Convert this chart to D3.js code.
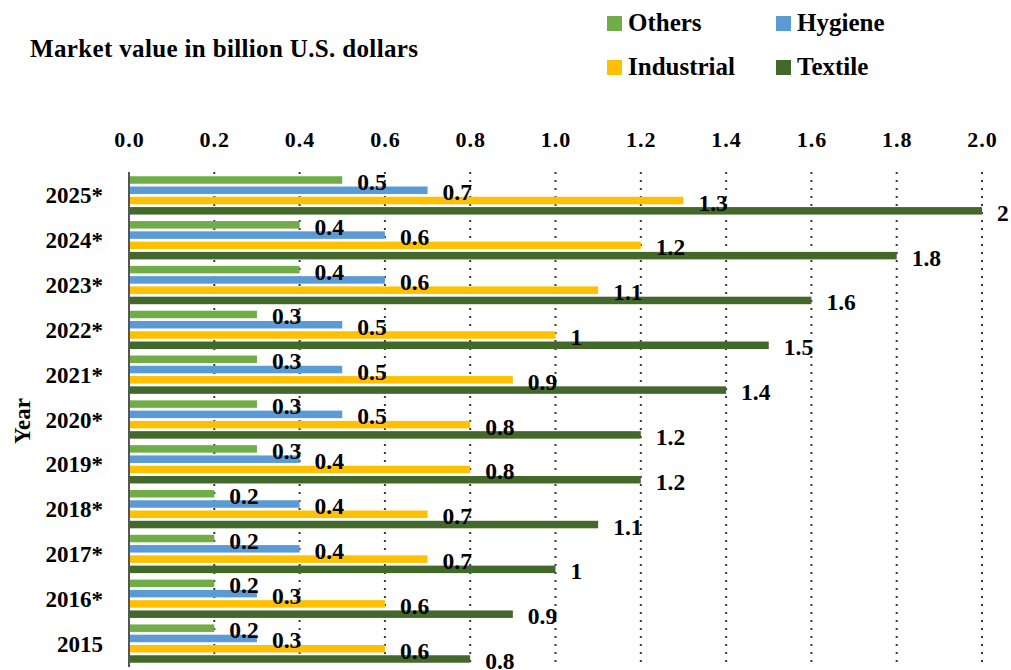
<!DOCTYPE html>
<html>
<head>
<meta charset="utf-8">
<script src="https://cdn.jsdelivr.net/npm/d3@7/dist/d3.min.js"></script>
<style>
  html, body { margin: 0; padding: 0; background: #fff; }
  svg { display: block; }
  text { font-family: "Liberation Serif", serif; font-weight: bold; fill: #000; }
</style>
</head>
<body>
<div id="chart"></div>
<script>
// Market value by year and segment (billion U.S. dollars)
const years = ["2025*", "2024*", "2023*", "2022*", "2021*", "2020*", "2019*", "2018*", "2017*", "2016*", "2015"];
const seriesNames = ["Others", "Hygiene", "Industrial", "Textile"];
const others     = [0.5, 0.4, 0.4, 0.3, 0.3, 0.3, 0.3, 0.2, 0.2, 0.2, 0.2];
const hygiene    = [0.7, 0.6, 0.6, 0.5, 0.5, 0.5, 0.4, 0.4, 0.4, 0.3, 0.3];
const industrial = [1.3, 1.2, 1.1, 1.0, 0.9, 0.8, 0.8, 0.7, 0.7, 0.6, 0.6];
const textile    = [2.0, 1.8, 1.6, 1.5, 1.4, 1.2, 1.2, 1.1, 1.0, 0.9, 0.8];
const xTicks = [0, 0.2, 0.4, 0.6, 0.8, 1.0, 1.2, 1.4, 1.6, 1.8, 2.0];

const colors = {Others: "#70AD47", Hygiene: "#5B9BD5", Industrial: "#FFC000", Textile: "#43682B"};
const valuesBySeries = {Others: others, Hygiene: hygiene, Industrial: industrial, Textile: textile};

const FONT = "Liberation Serif, serif";
const W = 1011, H = 670;
const svg = d3.select("#chart").append("svg").attr("width", W).attr("height", H);

const x = d3.scaleLinear().domain([0, 2]).range([129, 982]);
const y = d3.scaleBand().domain(years).range([173, 666]).paddingInner(0.145).paddingOuter(0.0725);
const ySub = d3.scaleBand().domain(seriesNames).range([0, y.bandwidth()]).paddingInner(0.27);

const plotTop = 172, plotBottom = 667;

// dotted vertical gridlines
svg.append("g").selectAll("line")
  .data(xTicks.filter(t => t > 0))
  .join("line")
  .attr("x1", d => x(d)).attr("x2", d => x(d))
  .attr("y1", plotTop).attr("y2", plotBottom)
  .attr("stroke", "#3a3a3a").attr("stroke-width", 2)
  .attr("stroke-dasharray", "2,6");

// top axis labels
const axisTop = d3.axisTop(x).tickValues(xTicks).tickFormat(d3.format(".1f")).tickSize(0).tickPadding(0);
const ax = svg.append("g").attr("transform", "translate(0,147)").call(axisTop);
ax.select(".domain").remove();
ax.selectAll("text")
  .attr("font-size", 22).attr("font-family", FONT).attr("font-weight", "bold")
  .attr("letter-spacing", 1).attr("fill", "#000").attr("dy", 0);

// bars
const rows = [];
years.forEach((yr, i) => seriesNames.forEach(s => rows.push({year: yr, series: s, value: valuesBySeries[s][i]})));

svg.append("g").selectAll("rect")
  .data(rows)
  .join("rect")
  .attr("x", x(0))
  .attr("y", d => y(d.year) + ySub(d.series))
  .attr("width", d => x(d.value) - x(0))
  .attr("height", ySub.bandwidth())
  .attr("fill", d => colors[d.series]);

// vertical axis line
svg.append("line")
  .attr("x1", x(0)).attr("x2", x(0))
  .attr("y1", plotTop).attr("y2", plotBottom)
  .attr("stroke", "#555").attr("stroke-width", 2);

// value labels
const fmt = v => String(+v.toFixed(1));
svg.append("g").selectAll("text")
  .data(rows)
  .join("text")
  .attr("x", d => x(d.value) + 15)
  .attr("y", d => y(d.year) + ySub(d.series) + ySub.bandwidth() / 2 + 10)
  .attr("font-size", 23.5)
  .text(d => fmt(d.value));

// category labels
const axisLeft = d3.axisLeft(y).tickSize(0).tickPadding(0);
const ay = svg.append("g").attr("transform", "translate(103,0)").call(axisLeft);
ay.select(".domain").remove();
ay.selectAll("text")
  .attr("font-size", 23).attr("font-family", FONT).attr("font-weight", "bold")
  .attr("fill", "#000").attr("dy", "0.35em");

// axis title
svg.append("text")
  .attr("transform", "translate(30,421) rotate(-90)")
  .attr("text-anchor", "middle")
  .attr("font-size", 23)
  .text("Year");

// chart title
svg.append("text")
  .attr("x", 30).attr("y", 57)
  .attr("font-size", 25)
  .attr("letter-spacing", 0.35)
  .text("Market value in billion U.S. dollars");

// legend
const legendPos = [
  {name: "Others", x: 607, y: 16},
  {name: "Hygiene", x: 776, y: 16},
  {name: "Industrial", x: 607, y: 60},
  {name: "Textile", x: 776, y: 60}
];
const lg = svg.append("g").selectAll("g").data(legendPos).join("g")
  .attr("transform", d => `translate(${d.x},${d.y})`);
lg.append("rect").attr("width", 15).attr("height", 15).attr("fill", d => colors[d.name]);
lg.append("text").attr("x", 21).attr("y", 14.8).attr("font-size", 25).text(d => d.name);
</script>
</body>
</html>
